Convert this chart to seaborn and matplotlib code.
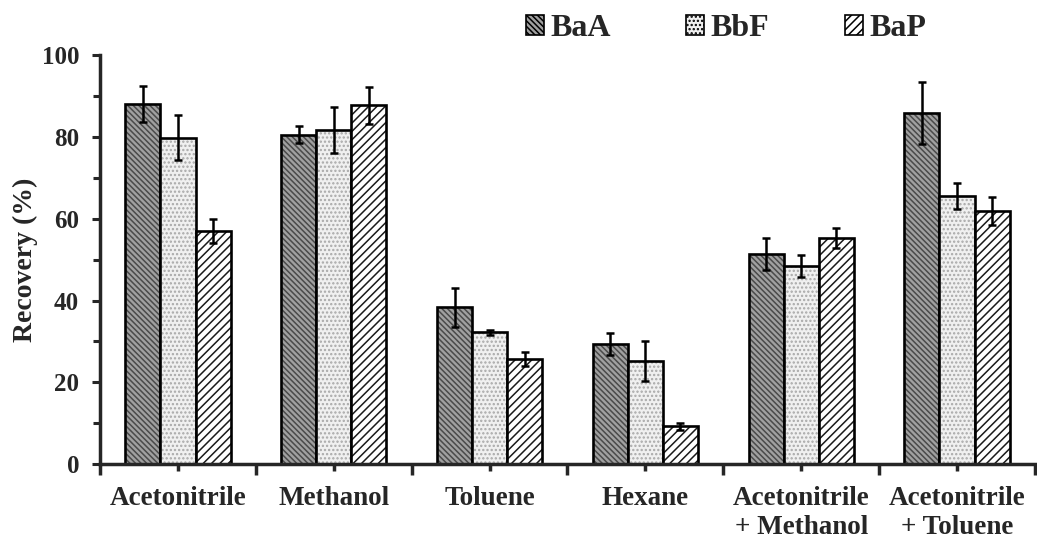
import numpy as np
import pandas as pd
import matplotlib
matplotlib.use("Agg")
import matplotlib.pyplot as plt
from matplotlib.patches import Patch
from matplotlib.ticker import MultipleLocator, FixedLocator
import seaborn as sns

solvents = ["Acetonitrile", "Methanol", "Toluene", "Hexane",
            "Acetonitrile\n+ Methanol", "Acetonitrile\n+ Toluene"]
compounds = ["BaA", "BbF", "BaP"]

baa = [88.1, 80.6, 38.3, 29.3, 51.4, 85.8]
bbf = [79.9, 81.7, 32.2, 25.3, 48.4, 65.5]
bap = [57.1, 87.8, 25.6, 9.2, 55.3, 61.9]

baa_err = [4.4, 2.0, 4.7, 2.7, 3.9, 7.6]
bbf_err = [5.4, 5.6, 0.7, 4.9, 2.7, 3.2]
bap_err = [2.9, 4.5, 1.7, 0.9, 2.5, 3.4]

errors = {"BaA": baa_err, "BbF": bbf_err, "BaP": bap_err}

df = pd.DataFrame({
    "Solvent": solvents * 3,
    "Compound": sum([[c] * len(solvents) for c in compounds], []),
    "Recovery": baa + bbf + bap,
})

sns.set_style("ticks")
plt.rcParams["font.family"] = ["Liberation Serif", "DejaVu Serif"]
plt.rcParams["font.weight"] = "bold"
plt.rcParams["hatch.linewidth"] = 1.1

faces = {"BaA": "#a0a0a0", "BbF": "#f0f0f0", "BaP": "#ffffff"}
hatches = {"BaA": "\\\\\\\\\\\\", "BbF": "....", "BaP": "////"}
hatch_colors = {"BaA": "#4a4a4a", "BbF": "#a8a8a8", "BaP": "#1a1a1a"}

fig = plt.figure(figsize=(10.37, 5.43), dpi=100)
ax = fig.add_axes([0.0965, 0.1455, 0.9015, 0.7525])

sns.barplot(data=df, x="Solvent", y="Recovery", hue="Compound",
            hue_order=compounds, order=solvents, palette=faces,
            width=0.675, edgecolor="black", linewidth=1.9,
            errorbar=None, legend=False, ax=ax)

# hatching per compound, then the error bars on each bar
n = len(solvents)
bars = [p for p in ax.patches if p.get_height() > 0]
for k, comp in enumerate(compounds):
    group = bars[k * n:(k + 1) * n]
    for i, p in enumerate(group):
        p.set_hatch(hatches[comp])
        p.set_facecolor(faces[comp])
        p._hatch_color = matplotlib.colors.to_rgba(hatch_colors[comp])
        xc = p.get_x() + p.get_width() / 2
        ax.errorbar(xc, p.get_height(), yerr=errors[comp][i], fmt="none",
                    ecolor="black", elinewidth=1.8, capsize=3, capthick=1.8,
                    zorder=5)

ax.set_ylim(0, 100)
ax.set_xlim(-0.5, 5.5)
ax.yaxis.set_major_locator(MultipleLocator(20))
ax.yaxis.set_minor_locator(MultipleLocator(10))
ax.xaxis.set_minor_locator(FixedLocator(np.arange(-0.5, 6.0, 1.0)))

ax.tick_params(axis="y", which="major", length=6, width=2.2, direction="out",
               labelsize=18, pad=9)
ax.tick_params(axis="y", which="minor", length=5, width=2.2, direction="out")
ax.tick_params(axis="x", which="major", length=5, width=2.5, direction="out",
               labelsize=19.5, pad=11)
ax.tick_params(axis="x", which="minor", length=8, width=2.5, direction="out")

for lab in ax.get_xticklabels():
    lab.set_fontweight("bold")
    lab.set_linespacing(1.22)
for lab in ax.get_yticklabels():
    lab.set_fontweight("bold")

ax.set_xlabel("")
ax.set_ylabel("Recovery (%)", fontsize=20, fontweight="bold")
ax.yaxis.set_label_coords(-0.066, 0.5)

sns.despine(ax=ax)
ax.spines["left"].set_linewidth(2.5)
ax.spines["bottom"].set_linewidth(2.5)

handles = [Patch(facecolor=faces[c], edgecolor="black", hatch=hatches[c],
                 linewidth=1.2, label=c) for c in compounds]
fig.legend(handles=handles, loc="center", bbox_to_anchor=(0.70, 0.947),
           ncol=3, frameon=False, prop={"size": 23, "weight": "bold"},
           handlelength=0.56, handleheight=0.56, handletextpad=0.2,
           columnspacing=2.37)

fig.savefig("out.png", dpi=100)
